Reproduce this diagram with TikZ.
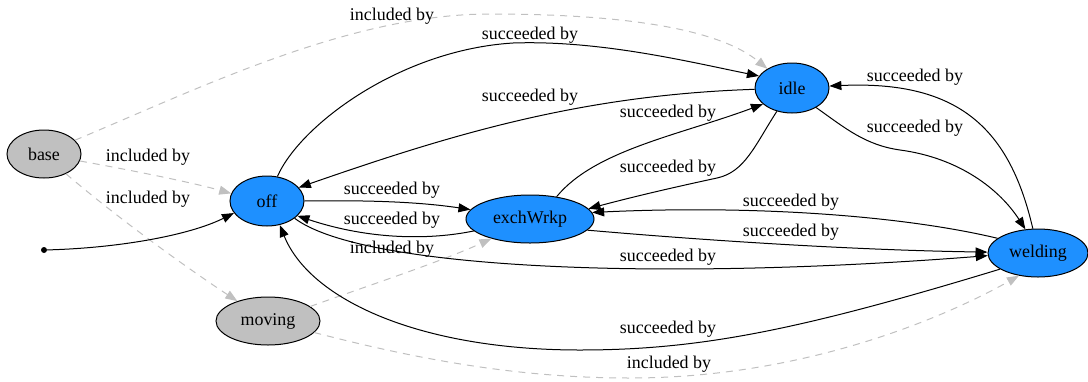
\documentclass[tikz,border=0pt]{standalone}
\usepackage{fontspec}
\setmainfont{Liberation Serif}
\usetikzlibrary{shapes.geometric,arrows.meta}
\definecolor{dodger}{HTML}{1E90FF}
\definecolor{nodegray}{HTML}{C0C0C0}
\definecolor{inclgray}{HTML}{C0C0C0}
\begin{document}
\begin{tikzpicture}[x=1bp,y=-1bp,
  basenode/.style={ellipse,draw=black,line width=1bp,inner sep=0pt,font=\fontsize{18}{20}\selectfont},
  state/.style={basenode,fill=dodger},
  grayst/.style={basenode,fill=nodegray},
  succ/.style={draw=black,line width=1bp,-{Triangle[length=12bp,width=9bp]}},
  incl/.style={draw=inclgray,line width=1bp,dash pattern=on 7bp off 6bp,-{Triangle[length=12bp,width=9bp,fill=inclgray]}},
  lbl/.style={font=\fontsize{18}{20}\selectfont,inner sep=0pt}]
\useasboundingbox (0,0) rectangle (1088,381);
% nodes
\node[grayst,minimum width=74bp,minimum height=48bp] (base) at (44,154) {base};
\node[state,minimum width=74bp,minimum height=50bp] (off) at (267,201) {off};
\node[grayst,minimum width=104bp,minimum height=48bp] (moving) at (268,321) {moving};
\node[state,minimum width=128bp,minimum height=48bp] (exch) at (530,219) {exchWrkp};
\node[state,minimum width=74bp,minimum height=50bp] (idle) at (792,88) {idle};
\node[state,minimum width=100bp,minimum height=48bp] (weld) at (1038,253) {welding};
\node[circle,fill=black,inner sep=0pt,minimum size=6bp] (start) at (44,250) {};
% included by edges
\draw[incl] (base.24) .. controls (200,88) and (350,14) .. (490,14) .. controls (630,14) and (720,30) .. (idle.142);
\draw[incl] (base.-11) .. controls (130,170) and (190,182) .. (off.168);
\draw[incl] (base.-42) .. controls (120,220) and (190,270) .. (moving.147);
\draw[incl] (moving.19) .. controls (370,285) and (440,262) .. (exch.207);
\draw[incl] (moving.-14) .. controls (420,360) and (520,378) .. (630,378) .. controls (800,378) and (940,320) .. (weld.230);
% succeeded by edges
\draw[succ] (start) .. controls (120,248) and (190,235) .. (off.200);
\draw[succ] (off.67) .. controls (300,125) and (400,50) .. (513,43) .. controls (600,40) and (690,62) .. (idle.160);
\draw[succ] (idle.182) .. controls (580,95) and (450,135) .. (off.23);
\draw[succ] (exch.40) .. controls (595,150) and (680,135) .. (idle.209);
\draw[succ] (idle.237) .. controls (755,145) and (745,172) .. (717,178) .. controls (680,186) and (640,195) .. (exch.10);
\draw[succ] (off.0) .. controls (370,200) and (420,202) .. (exch.171);
\draw[succ] (exch.192) .. controls (430,240) and (370,240) .. (off.-26);
\draw[succ] (weld.160) .. controls (900,215) and (750,205) .. (exch.6);
\draw[succ] (exch.-11) .. controls (700,240) and (850,250) .. (weld.179);
\draw[succ] (off.-32) .. controls (360,268) and (650,282) .. (weld.183);
\draw[succ] (weld.102) .. controls (1010,130) and (960,80) .. (idle.3);
\draw[succ] (idle.-39) .. controls (845,128) and (865,145) .. (900,150) .. controls (960,158) and (1000,190) .. (weld.118);
\draw[succ] (weld.203) .. controls (800,330) and (700,350) .. (580,350) .. controls (420,350) and (310,300) .. (off.-62);
% labels
\node[lbl] (l1) at (392,16) {included by};
\node[lbl] (l2) at (148,157) {included by};
\node[lbl] (l3) at (148,199) {included by};
\node[lbl] (l4) at (392,249) {included by};
\node[lbl] (l5) at (669,364) {included by};
\node[lbl] (s1) at (530,35) {succeeded by};
\node[lbl] (s2) at (530,97) {succeeded by};
\node[lbl] (s3) at (668,113) {succeeded by};
\node[lbl] (s4) at (668,168) {succeeded by};
\node[lbl] (s5) at (392,190) {succeeded by};
\node[lbl] (s6) at (392,220) {succeeded by};
\node[lbl] (s7) at (791,202) {succeeded by};
\node[lbl] (s8) at (791,232) {succeeded by};
\node[lbl] (s9) at (668,257) {succeeded by};
\node[lbl] (s10) at (915,77) {succeeded by};
\node[lbl] (s11) at (915,128) {succeeded by};
\node[lbl] (s12) at (668,329) {succeeded by};
\end{tikzpicture}
\end{document}
